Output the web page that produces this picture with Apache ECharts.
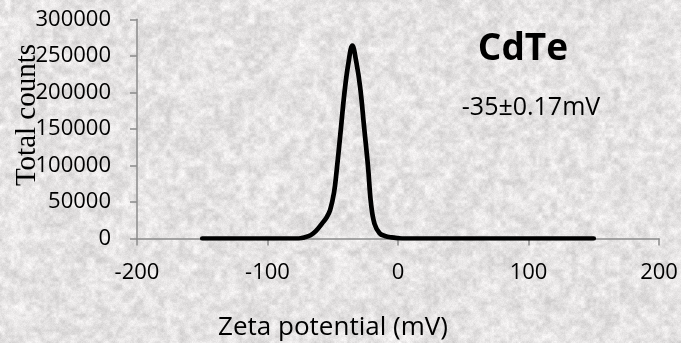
<!DOCTYPE html>
<html>
<head>
<meta charset="utf-8">
<script src="https://cdn.jsdelivr.net/npm/echarts@6/dist/echarts.min.js"></script>
<style>
  html, body { margin: 0; padding: 0; background: #e3e3e3; }
  #wrap { position: relative; width: 681px; height: 343px; overflow: hidden; }
  #bg { position: absolute; left: 0; top: 0; }
  #chart { position: absolute; left: 0; top: 0; width: 681px; height: 343px; }
</style>
</head>
<body>
<div id="wrap">
  <canvas id="bg" width="681" height="343"></canvas>
  <div id="chart"></div>
</div>
<script>
// Zeta potential distribution of CdTe (mV vs total counts)
const zeta = [-150, -100, -80, -76, -72, -67, -63, -58, -55, -52, -49, -47, -44, -41, -38, -35,
              -32, -29, -26, -23, -20.7, -18, -14, -10, -5, 0, 5, 150];
const counts = [0, 0, 0, 0, 1500, 4500, 10000, 21000, 28000, 39000, 63000, 93000, 146000, 200000, 240000, 264000,
                242000, 207000, 153000, 99000, 48000, 20000, 7000, 3500, 1500, 500, 0, 0];

const xRange = { min: -200, max: 200, step: 100 };
const yRange = { min: 0, max: 300000, step: 50000 };

const sampleName = 'CdTe';
const zetaResult = '-35±0.17mV';
const xTitle = 'Zeta potential (mV)';
const yTitle = 'Total counts';

// Grey marble-like paper texture behind the plot
(function paintTexture() {
  const cv = document.getElementById('bg');
  const ctx = cv.getContext('2d');
  const W = cv.width, H = cv.height;
  const img = ctx.createImageData(W, H);
  function hash(x, y, s) {
    let h = Math.imul(x, 374761393) ^ Math.imul(y, 668265263) ^ Math.imul(s, 2246822519);
    h = Math.imul(h ^ (h >>> 13), 1274126177);
    h = h ^ (h >>> 16);
    return (h >>> 0) / 4294967295;
  }
  function smooth(t) { return t * t * (3 - 2 * t); }
  function vnoise(x, y, cell, seed) {
    const gx = Math.floor(x / cell), gy = Math.floor(y / cell);
    const fx = smooth(x / cell - gx), fy = smooth(y / cell - gy);
    const a = hash(gx, gy, seed), b = hash(gx + 1, gy, seed);
    const c = hash(gx, gy + 1, seed), d = hash(gx + 1, gy + 1, seed);
    return (a * (1 - fx) + b * fx) * (1 - fy) + (c * (1 - fx) + d * fx) * fy;
  }
  for (let y = 0; y < H; y++) {
    for (let x = 0; x < W; x++) {
      const v = 0.45 * vnoise(x, y, 7, 1) + 0.35 * vnoise(x, y, 3, 2) + 0.2 * hash(x, y, 3);
      const g = 198 + v * 58;
      const i = (y * W + x) * 4;
      img.data[i] = g + 2;
      img.data[i + 1] = g;
      img.data[i + 2] = g;
      img.data[i + 3] = 255;
    }
  }
  ctx.putImageData(img, 0, 0);
})();

const chart = echarts.init(document.getElementById('chart'), null, { renderer: 'canvas' });

const axisGrey = '#8a8a8a';
const labelFont = '"Open Sans", "DejaVu Sans", sans-serif';

chart.setOption({
  backgroundColor: 'transparent',
  animation: false,
  grid: { left: 137, right: 22, top: 19.3, bottom: 104.5, containLabel: false },
  xAxis: {
    type: 'value',
    min: xRange.min, max: xRange.max, interval: xRange.step,
    axisLine: { show: true, onZero: false, lineStyle: { color: axisGrey, width: 1.5 } },
    axisTick: { show: true, length: 7, inside: false, lineStyle: { color: axisGrey, width: 1.5 } },
    splitLine: { show: false },
    axisLabel: { color: '#000', fontFamily: labelFont, fontSize: 22, margin: 23,
                 formatter: v => String(v) }
  },
  yAxis: {
    type: 'value',
    min: yRange.min, max: yRange.max, interval: yRange.step,
    axisLine: { show: true, onZero: false, lineStyle: { color: axisGrey, width: 1.5 } },
    axisTick: { show: true, length: 7, inside: false, lineStyle: { color: axisGrey, width: 1.5 } },
    splitLine: { show: false },
    axisLabel: { color: '#000', fontFamily: labelFont, fontSize: 22, margin: 26,
                 formatter: v => String(v) }
  },
  series: [{
    type: 'line',
    data: zeta.map((z, i) => [z, counts[i]]),
    smooth: 0.4,
    showSymbol: false,
    lineStyle: { color: '#000', width: 4.7, cap: 'round', join: 'round' }
  }],
  graphic: [
    {
      type: 'text', x: 523, y: 49,
      style: { text: sampleName, fontFamily: labelFont, fontWeight: 'bold', fontSize: 37,
               fill: '#000', align: 'center', verticalAlign: 'middle' }
    },
    {
      type: 'text', x: 531, y: 108,
      style: { text: zetaResult, fontFamily: labelFont, fontSize: 25,
               fill: '#000', align: 'center', verticalAlign: 'middle' }
    },
    {
      type: 'text', x: 333, y: 328,
      style: { text: xTitle, fontFamily: labelFont, fontSize: 26,
               fill: '#000', align: 'center', verticalAlign: 'middle' }
    },
    {
      type: 'text', x: 27, y: 115, rotation: Math.PI / 2,
      style: { text: yTitle, fontFamily: '"Liberation Serif", "DejaVu Serif", serif', fontSize: 29,
               fill: '#000', align: 'center', verticalAlign: 'middle' }
    }
  ]
});
</script>
</body>
</html>
